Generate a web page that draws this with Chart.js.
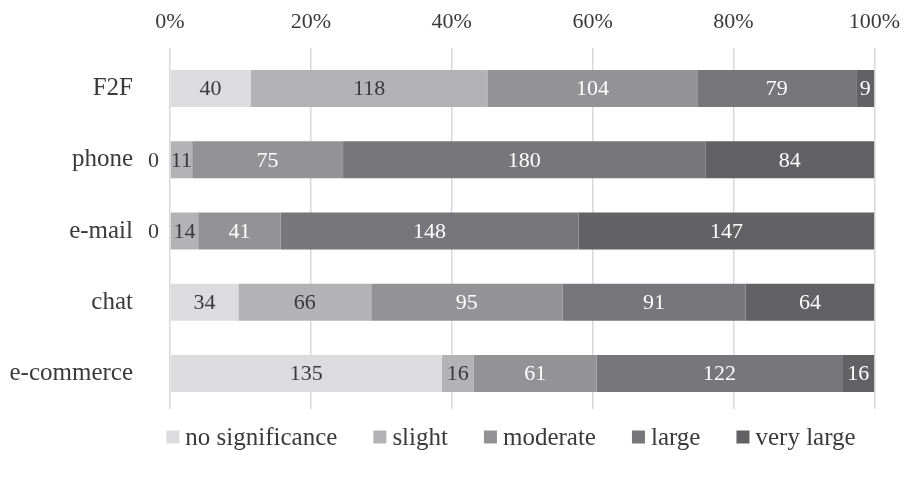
<!DOCTYPE html>
<html>
<head>
<meta charset="utf-8">
<script src="https://cdn.jsdelivr.net/npm/chart.js@4/dist/chart.umd.min.js"></script>
<style>
  html, body { margin: 0; padding: 0; background: #fff; }
  #wrap { width: 913px; height: 478px; position: relative; }
</style>
</head>
<body>
<div id="wrap"><canvas id="c"></canvas></div>
<script>
// Channels and the rated significance levels (counts of respondents)
const categories = ['F2F', 'phone', 'e-mail', 'chat', 'e-commerce'];
const levels = ['no significance', 'slight', 'moderate', 'large', 'very large'];
const noSignificance = [40, 0, 0, 34, 135];
const slight = [118, 11, 14, 66, 16];
const moderate = [104, 75, 41, 95, 61];
const large = [79, 180, 148, 91, 122];
const veryLarge = [9, 84, 147, 64, 16];
const percentTicks = ['0%', '20%', '40%', '60%', '80%', '100%'];

const seriesCounts = [noSignificance, slight, moderate, large, veryLarge];
const fills = ['#dcdcde', '#b3b3b6', '#939396', '#77777b', '#626265'];
const textColors = ['#3a3a3a', '#3a3a3a', '#ffffff', '#ffffff', '#ffffff'];
const FONT = "'Liberation Serif', 'Times New Roman', serif";
const FS_TEXT = 25;   // words: category names, legend
const FS_NUM = 22;    // figures: percent ticks, counts

// Each row is scaled to 100% of its total
const totals = categories.map((_, i) => seriesCounts.reduce((s, arr) => s + arr[i], 0));

const datasets = seriesCounts.map((arr, k) => ({
  label: levels[k],
  counts: arr,
  data: arr.map((v, i) => v / totals[i] * 100),
  backgroundColor: fills[k],
  borderWidth: 0,
  categoryPercentage: 1,
  barPercentage: 0.52
}));

// Count labels inside each segment; zero counts sit just left of the bar
const countLabels = {
  id: 'countLabels',
  afterDatasetsDraw(chart) {
    const ctx = chart.ctx;
    ctx.save();
    ctx.font = FS_NUM + 'px ' + FONT;
    ctx.textBaseline = 'middle';
    chart.data.datasets.forEach((ds, k) => {
      const meta = chart.getDatasetMeta(k);
      meta.data.forEach((bar, i) => {
        const v = ds.counts[i];
        if (v === 0) {
          ctx.fillStyle = '#3a3a3a';
          ctx.textAlign = 'right';
          ctx.fillText(String(v), chart.chartArea.left - 11, bar.y + 1);
        } else {
          ctx.fillStyle = textColors[k];
          ctx.textAlign = 'center';
          ctx.fillText(String(v), (bar.x + bar.base) / 2, bar.y + 1);
        }
      });
    });
    ctx.restore();
  }
};

// Legend row under the plot
const bottomLegend = {
  id: 'bottomLegend',
  afterDraw(chart) {
    const ctx = chart.ctx;
    ctx.save();
    ctx.font = FS_TEXT + 'px ' + FONT;
    ctx.textBaseline = 'middle';
    ctx.textAlign = 'left';
    const box = 13, boxGap = 6, itemGap = 36;
    const items = chart.data.datasets.map(ds => ({
      text: ds.label, color: ds.backgroundColor, w: box + boxGap + ctx.measureText(ds.label).width
    }));
    const total = items.reduce((s, it) => s + it.w, 0) + itemGap * (items.length - 1);
    let x = 511 - total / 2;
    const y = 437;
    items.forEach(it => {
      ctx.fillStyle = it.color;
      ctx.fillRect(x, y - box / 2, box, box);
      ctx.fillStyle = '#3a3a3a';
      ctx.fillText(it.text, x + box + boxGap, y + 1);
      x += it.w + itemGap;
    });
    ctx.restore();
  }
};

new Chart(document.getElementById('c'), {
  type: 'bar',
  data: { labels: categories, datasets },
  plugins: [countLabels, bottomLegend],
  options: {
    indexAxis: 'y',
    responsive: true,
    maintainAspectRatio: false,
    animation: false,
    layout: { padding: { left: 0, right: 34, top: 0, bottom: 69 } },
    plugins: {
      legend: { display: false },
      tooltip: { enabled: false }
    },
    scales: {
      x: {
        position: 'top',
        stacked: true,
        min: 0,
        max: 100,
        ticks: {
          stepSize: 20,
          padding: 13,
          color: '#3a3a3a',
          font: { family: FONT, size: FS_NUM },
          callback: (v, i) => percentTicks[i]
        },
        grid: { color: '#d9d9d9', lineWidth: 1.5, tickLength: 5 },
        border: { display: false },
        afterFit(scale) { scale.height = 53; }
      },
      y: {
        stacked: true,
        ticks: {
          padding: 29,
          color: '#3a3a3a',
          font: { family: FONT, size: FS_TEXT }
        },
        grid: { display: false },
        border: { display: false },
        afterFit(scale) { scale.width = 170; }
      }
    }
  }
});
</script>
</body>
</html>
